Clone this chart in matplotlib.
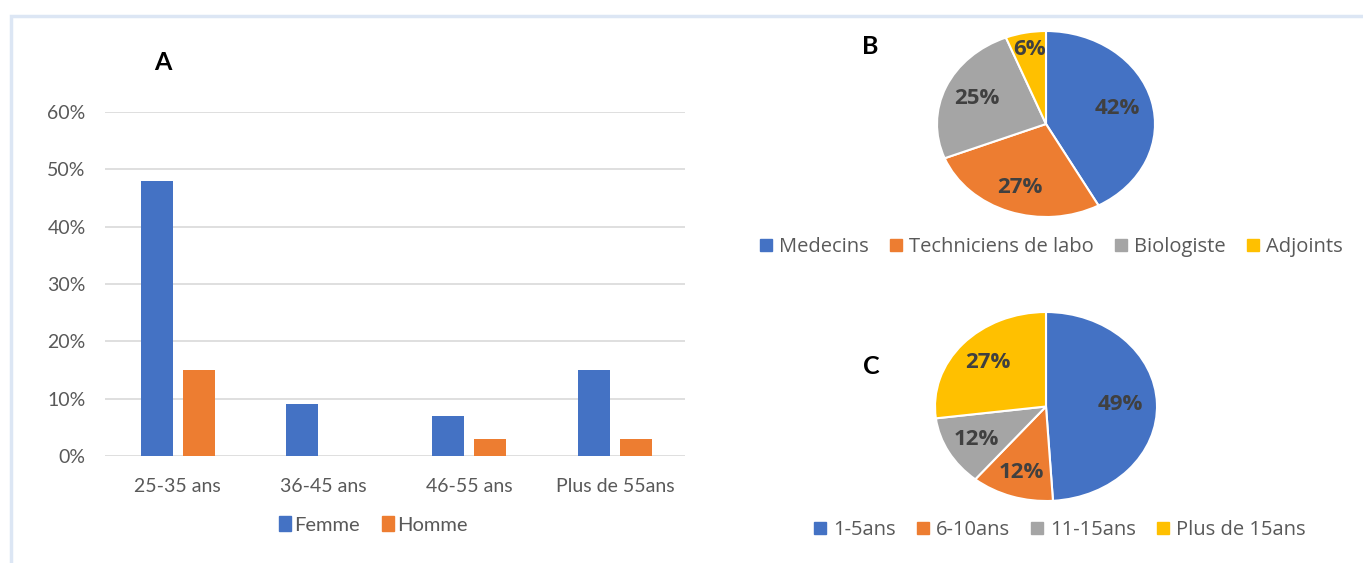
import numpy as np
import matplotlib.pyplot as plt
from matplotlib.patches import Rectangle, Patch
from matplotlib.ticker import PercentFormatter

# ── Data ──────────────────────────────────────────────────────────────────────
age_groups = ["25-35 ans", "36-45 ans", "46-55 ans", "Plus de 55ans"]
femme = [0.48, 0.09, 0.07, 0.15]
homme = [0.15, 0.00, 0.03, 0.03]

prof_labels = ["Medecins", "Techniciens de labo", "Biologiste", "Adjoints"]
prof_pct = [42, 27, 25, 6]

exp_labels = ["1-5ans", "6-10ans", "11-15ans", "Plus de 15ans"]
exp_pct = [49, 12, 12, 27]

# ── Style ─────────────────────────────────────────────────────────────────────
BLUE, ORANGE, GRAY, YELLOW = "#4472C4", "#ED7D31", "#A5A5A5", "#FFC000"
PIE_COLORS = [BLUE, ORANGE, GRAY, YELLOW]
TXT = "#595959"
plt.rcParams["font.family"] = ["Lato", "DejaVu Sans"]

W, H = 1363, 563
fig = plt.figure(figsize=(W / 100, H / 100), dpi=100)
fig.patch.set_facecolor("white")

def fx(px):
    return px / W

def fy(py):
    return 1 - py / H

# light frame around the panels
fig.add_artist(Rectangle((fx(11), -0.2), 1.5, fy(16) + 0.2, transform=fig.transFigure,
                         fill=False, edgecolor="#DCE6F4", lw=2.5))

# ── A: bars ───────────────────────────────────────────────────────────────────
ax = fig.add_axes([fx(105), fy(456), fx(685) - fx(105), fy(112) - fy(456)])
x = np.arange(len(age_groups))
bw = 0.22
ax.bar(x - 0.145, femme, bw, color=BLUE, label="Femme", zorder=3)
ax.bar(x + 0.145, homme, bw, color=ORANGE, label="Homme", zorder=3)
ax.set_xlim(-0.5, 3.48)
ax.set_ylim(0, 0.6)
ax.set_yticks(np.arange(0, 0.61, 0.1))
ax.yaxis.set_major_formatter(PercentFormatter(1.0, decimals=0))
ax.set_xticks(x)
ax.set_xticklabels(age_groups)
ax.grid(axis="y", color="#D9D9D9", lw=1.2, zorder=0)
for s in ax.spines.values():
    s.set_visible(False)
ax.tick_params(axis="both", length=0, colors=TXT, labelsize=14)
ax.tick_params(axis="y", pad=14)
ax.tick_params(axis="x", pad=16)
fig.legend(handles=[Patch(color=BLUE, label="Femme"), Patch(color=ORANGE, label="Homme")],
           loc="center", bbox_to_anchor=(fx(373), fy(525)), ncol=2, frameon=False,
           fontsize=14.5, labelcolor=TXT, handlelength=0.6, handleheight=0.7,
           handletextpad=0.15, columnspacing=1.1)
fig.text(fx(163), fy(63), "A", fontsize=18, fontweight="bold", ha="center", va="center")


# ── Pies (stretched horizontally like the source) ─────────────────────────────
def draw_pie(cx, cy, rx, ry, vals, dists):
    axp = fig.add_axes([fx(cx - 1.25 * rx), fy(cy + 1.25 * ry), 2.5 * rx / W, 2.5 * ry / H])
    wedges, _ = axp.pie(vals, colors=PIE_COLORS, startangle=90, counterclock=False,
                        wedgeprops=dict(edgecolor="white", linewidth=1.5))
    axp.set_aspect("auto")
    axp.set_xlim(-1.25, 1.25)
    axp.set_ylim(-1.25, 1.25)
    for w, v, d in zip(wedges, vals, dists):
        ang = np.deg2rad((w.theta1 + w.theta2) / 2)
        axp.text(d * np.cos(ang), d * np.sin(ang), f"{v}%", ha="center", va="center",
                 fontsize=16, fontweight="bold", color="#404040",
                 family=["Open Sans", "DejaVu Sans"])
    return axp


draw_pie(1046, 124, 109, 93, prof_pct, [0.68, 0.72, 0.69, 0.82])
draw_pie(1046, 406.5, 111, 94.5, exp_pct, [0.67, 0.73, 0.72, 0.70])

fig.text(fx(870), fy(46), "B", fontsize=18, fontweight="bold", ha="center", va="center")
fig.text(fx(871), fy(367), "C", fontsize=18, fontweight="bold", ha="center", va="center")

leg_kw = dict(loc="center", ncol=4, frameon=False, labelcolor=TXT,
              handlelength=0.6, handleheight=0.6, handletextpad=0.35, columnspacing=1.05,
              prop=dict(family=["Open Sans", "DejaVu Sans"], size=14.5))
fig.legend(handles=[Patch(color=c, label=l) for c, l in zip(PIE_COLORS, prof_labels)],
           bbox_to_anchor=(fx(1051), fy(247)), **leg_kw)
fig.legend(handles=[Patch(color=c, label=l) for c, l in zip(PIE_COLORS, exp_labels)],
           bbox_to_anchor=(fx(1060), fy(530)), **leg_kw)

plt.savefig("out.png", dpi=100)
plt.close()
